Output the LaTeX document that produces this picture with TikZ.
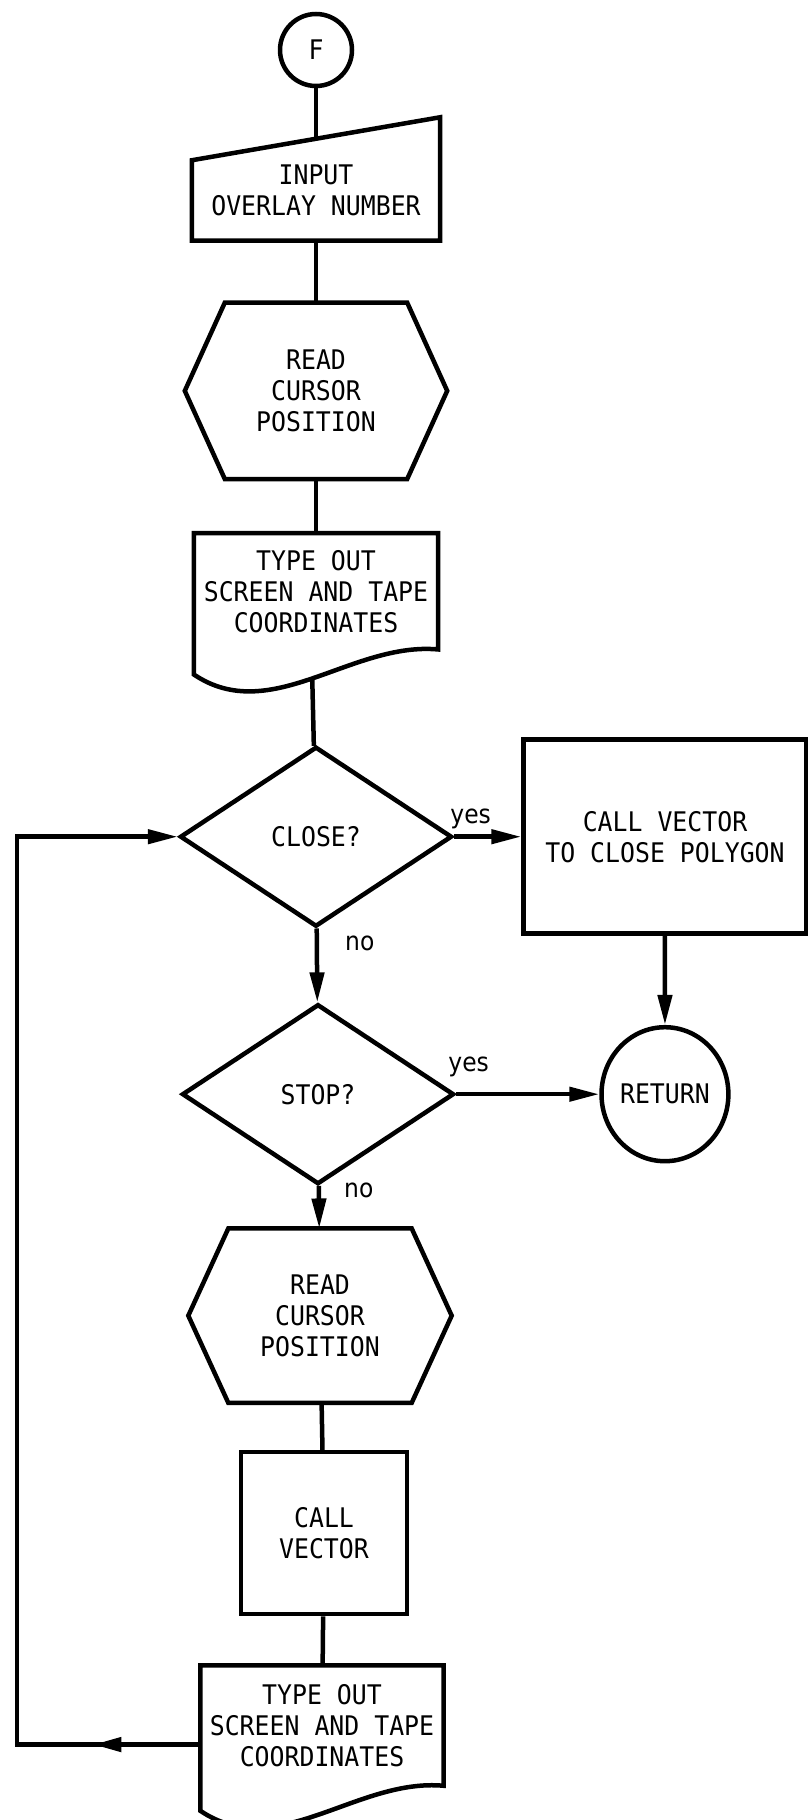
\documentclass[tikz,border=0pt]{standalone}
\usepackage{fontspec}
\setmonofont{DejaVu Sans Mono}[FakeStretch=0.92]
\newfontfamily\labelfont{DejaVu Sans Condensed}
\usetikzlibrary{positioning}
\usetikzlibrary{calc}
\usetikzlibrary{shapes.geometric}
\usetikzlibrary{arrows.meta}
\usetikzlibrary{decorations.markings}
\newcommand{\chartfont}{\ttfamily\fontsize{27}{31}\selectfont}

\begin{document}
\begin{tikzpicture}[x=1pt, y=-1pt,
    every node/.style={inner sep=0pt, align=center, font=\chartfont},
    outline/.style={line width=4.5pt, line join=miter},
    box/.style={draw, outline, rectangle},
    decision/.style={draw, outline, diamond, minimum width=272pt, minimum height=180pt},
    terminal/.style={draw, outline, ellipse},
    wire/.style={line width=4.5pt},
    flow/.style={wire, -{Triangle[length=30pt, width=14pt]}},
    answer/.style={font=\labelfont\fontsize{26}{26}\selectfont}]

    \useasboundingbox (0,0) rectangle (808,1820);

    % main column
    \node[terminal, minimum width=72pt, minimum height=72pt] (f) at (316,50) {F};
    \node[minimum width=248pt, minimum height=100pt, below=52pt of f] (input) {INPUT\\OVERLAY NUMBER};
    \draw[outline] ([yshift=-20pt]input.north west) -- coordinate[pos=0.5] (input in) ([yshift=23pt]input.north east)
        -- (input.south east) -- (input.south west) -- cycle;

    \node[minimum width=262pt, minimum height=176pt, below=62pt of input] (hex1) {READ\\CURSOR\\POSITION};
    \draw[outline] (hex1.west) -- ([xshift=40pt]hex1.north west) -- ([xshift=-40pt]hex1.north east) -- (hex1.east)
        -- ([xshift=-40pt]hex1.south east) -- ([xshift=40pt]hex1.south west) -- cycle;

    \node[minimum width=244pt, minimum height=116pt, below=54pt of hex1] (doc1) {TYPE OUT\\SCREEN AND TAPE\\COORDINATES};
    \draw[outline] (doc1.south east) -- (doc1.north east) -- (doc1.north west) -- ([yshift=-25pt]doc1.south west)
        .. controls ($(doc1.south west)+(77,77)$) and ($(doc1.south east)+(-87,-8)$) .. coordinate[pos=0.5] (doc1 out) (doc1.south east) -- cycle;

    \node[decision, below=95pt of doc1] (close) {CLOSE?};
    \node[box, minimum width=283pt, minimum height=194pt, right=67pt of close] (vector box) {CALL VECTOR\\TO CLOSE POLYGON};

    \node[decision, below=73pt of close, xshift=2pt] (stop) {STOP?};
    \node[terminal, minimum width=124pt, minimum height=134pt, right=143pt of stop] (return) {RETURN};

    \node[minimum width=263pt, minimum height=174pt, below=42pt of stop, xshift=2pt] (hex2) {READ\\CURSOR\\POSITION};
    \draw[outline] (hex2.west) -- ([xshift=40pt]hex2.north west) -- ([xshift=-40pt]hex2.north east) -- (hex2.east)
        -- ([xshift=-40pt]hex2.south east) -- ([xshift=40pt]hex2.south west) -- cycle;

    \node[box, minimum width=166pt, minimum height=162pt, below=47pt of hex2, xshift=4pt] (call) {CALL\\VECTOR};

    \node[minimum width=243pt, minimum height=120pt, below=49pt of call, xshift=-2pt] (doc2) {TYPE OUT\\SCREEN AND TAPE\\COORDINATES};
    \draw[outline] (doc2.south east) -- (doc2.north east) -- (doc2.north west) -- ([yshift=-25pt]doc2.south west)
        .. controls ($(doc2.south west)+(77,77)$) and ($(doc2.south east)+(-87,-8)$) .. (doc2.south east) -- cycle;

    \coordinate (loop start) at ([yshift=-19pt]doc2.west);
    \coordinate (loop left) at (17,0);

    % answers
    \node[answer, above right=8pt and -4pt of close.east] (close yes) {yes};
    \node[answer, below right=7pt and 29pt of close.south] (close no) {no};
    \node[answer, above right=17pt and -8pt of stop.east] (stop yes) {yes};
    \node[answer, below right=-4pt and 26pt of stop.south] (stop no) {no};

    % connectors
    \draw[wire] (f) -- (input in);
    \draw[wire] (input) -- (hex1);
    \draw[wire] (hex1) -- (doc1);
    \draw[wire] (doc1 out) -- (close);
    \draw[flow] (close) -- (vector box);
    \draw[flow] (close) -- (stop);
    \draw[flow] (vector box) -- (return);
    \draw[flow] (stop) -- (return);
    \draw[flow] (stop) -- (hex2);
    \draw[wire] (hex2) -- (call);
    \draw[wire] (call) -- (doc2);
    \draw[flow, postaction={decorate}, decoration={markings, mark=at position 107pt with {\arrow{Triangle[length=28pt, width=14pt]}}}]
        (loop start) -- (loop start -| loop left) |- (close.west);
\end{tikzpicture}
\end{document}
